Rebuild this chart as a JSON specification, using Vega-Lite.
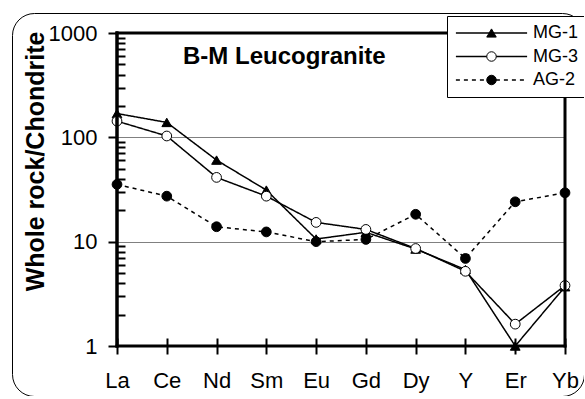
{
  "$schema": "https://vega.github.io/schema/vega-lite/v6.json",
  "width": 572,
  "height": 383,
  "autosize": {"type": "none"},
  "padding": {"left": 12, "top": 13, "right": 0, "bottom": 0},
  "background": "white",
  "config": {
    "font": "Liberation Sans",
    "view": {"stroke": "black", "strokeWidth": 1, "cornerRadius": 22, "fill": "white"}
  },
  "title": {
    "text": "B-M Leucogranite",
    "anchor": "start",
    "frame": "group",
    "orient": "top",
    "offset": 0,
    "dx": 171,
    "dy": 75,
    "fontSize": 24,
    "fontWeight": "bold",
    "baseline": "alphabetic",
    "color": "black"
  },
  "data": {
    "values": [
      {"sample": "MG-1", "element": "La", "value": 169},
      {"sample": "MG-1", "element": "Ce", "value": 139},
      {"sample": "MG-1", "element": "Nd", "value": 60.5},
      {"sample": "MG-1", "element": "Sm", "value": 31.2},
      {"sample": "MG-1", "element": "Eu", "value": 10.6},
      {"sample": "MG-1", "element": "Gd", "value": 12.3},
      {"sample": "MG-1", "element": "Dy", "value": 8.5},
      {"sample": "MG-1", "element": "Y", "value": 5.4},
      {"sample": "MG-1", "element": "Er", "value": 1.0},
      {"sample": "MG-1", "element": "Yb", "value": 3.7},
      {"sample": "MG-3", "element": "La", "value": 143},
      {"sample": "MG-3", "element": "Ce", "value": 103},
      {"sample": "MG-3", "element": "Nd", "value": 41.3},
      {"sample": "MG-3", "element": "Sm", "value": 27.3},
      {"sample": "MG-3", "element": "Eu", "value": 15.3},
      {"sample": "MG-3", "element": "Gd", "value": 13.1},
      {"sample": "MG-3", "element": "Dy", "value": 8.6},
      {"sample": "MG-3", "element": "Y", "value": 5.2},
      {"sample": "MG-3", "element": "Er", "value": 1.62},
      {"sample": "MG-3", "element": "Yb", "value": 3.8},
      {"sample": "AG-2", "element": "La", "value": 35.4},
      {"sample": "AG-2", "element": "Ce", "value": 27.3},
      {"sample": "AG-2", "element": "Nd", "value": 13.9},
      {"sample": "AG-2", "element": "Sm", "value": 12.4},
      {"sample": "AG-2", "element": "Eu", "value": 10.0},
      {"sample": "AG-2", "element": "Gd", "value": 10.5},
      {"sample": "AG-2", "element": "Dy", "value": 18.3},
      {"sample": "AG-2", "element": "Y", "value": 6.9},
      {"sample": "AG-2", "element": "Er", "value": 24.1},
      {"sample": "AG-2", "element": "Yb", "value": 29.4}
    ]
  },
  "resolve": {"axis": {"y": "independent"}},
  "layer": [
    {
      "mark": {"type": "line", "color": "black", "strokeWidth": 1.5},
      "encoding": {
        "x": {
          "field": "element",
          "type": "ordinal",
          "scale": {"type": "point", "domain": ["La", "Ce", "Nd", "Sm", "Eu", "Gd", "Dy", "Y", "Er", "Yb"], "range": [105, 553], "padding": 0},
          "axis": {
            "orient": "bottom",
            "offset": -58,
            "domain": false,
            "grid": false,
            "ticks": true,
            "tickSize": 16,
            "tickWidth": 2,
            "tickColor": "black",
            "labelFontSize": 22,
            "labelPadding": 16,
            "labelAngle": 0,
            "labelColor": "black",
            "title": null
          }
        },
        "y": {
          "field": "value",
          "type": "quantitative",
          "scale": {"type": "log", "domain": [1, 1000], "range": [333, 20], "nice": false},
          "axis": {
            "orient": "left",
            "offset": -105,
            "values": [1, 10, 100, 1000],
            "format": "d",
            "domain": false,
            "grid": true,
            "gridColor": "#808080",
            "gridWidth": 1,
            "ticks": true,
            "tickSize": 9,
            "tickWidth": 2,
            "tickColor": "black",
            "labelFontSize": 22,
            "labelPadding": 11,
            "labelColor": "black",
            "title": "Whole rock/Chondrite",
            "titleFontSize": 25,
            "titleFontWeight": "bold",
            "titleColor": "black",
            "titleAngle": -90,
            "titleX": -74,
            "titleY": 148,
            "titleAlign": "center",
            "titleBaseline": "alphabetic"
          }
        },
        "strokeDash": {
          "field": "sample",
          "type": "nominal",
          "sort": ["MG-1", "MG-3", "AG-2"],
          "scale": {"range": [[1, 0], [1, 0], [4, 4]]},
          "legend": {
            "title": null,
            "orient": "none",
            "legendX": 435,
            "legendY": 3,
            "fillColor": "white",
            "strokeColor": "black",
            "padding": 8,
            "rowPadding": 5.5,
            "labelFontSize": 18,
            "labelColor": "black",
            "symbolType": "M-8.9,0L8.9,0",
            "symbolSize": 64,
            "symbolStrokeColor": "black",
            "symbolStrokeWidth": 1.5,
            "symbolOffset": 27.5,
            "labelOffset": 32.5,
            "zindex": 0
          }
        },
        "order": {"value": null}
      }
    },
    {
      "mark": {"type": "point", "filled": true, "strokeWidth": 1, "size": 95, "opacity": 1},
      "encoding": {
        "x": {"field": "element", "type": "ordinal"},
        "y": {"field": "value", "type": "quantitative", "axis": null},
        "shape": {
          "field": "sample",
          "type": "nominal",
          "scale": {"domain": ["MG-1", "MG-3", "AG-2"], "range": ["triangle-up", "circle", "circle"]},
          "legend": {
            "title": null,
            "orient": "none",
            "legendX": 435,
            "legendY": 3,
            "padding": 8,
            "rowPadding": 5.5,
            "labelFontSize": 18,
            "labelOpacity": 0,
            "symbolSize": 90,
            "symbolStrokeWidth": 1,
            "symbolOffset": 27.5,
            "labelOffset": 32.5,
            "zindex": 1
          }
        },
        "fill": {
          "field": "sample",
          "type": "nominal",
          "scale": {"domain": ["MG-1", "MG-3", "AG-2"], "range": ["black", "white", "black"]},
          "legend": {
            "title": null,
            "orient": "none",
            "legendX": 435,
            "legendY": 3,
            "padding": 8,
            "rowPadding": 5.5,
            "labelFontSize": 18,
            "labelOpacity": 0,
            "symbolSize": 90,
            "symbolStrokeWidth": 1,
            "symbolOffset": 27.5,
            "labelOffset": 32.5,
            "zindex": 1
          }
        },
        "stroke": {
          "field": "sample",
          "type": "nominal",
          "scale": {"domain": ["MG-1", "MG-3", "AG-2"], "range": ["black", "black", "black"]},
          "legend": {
            "title": null,
            "orient": "none",
            "legendX": 435,
            "legendY": 3,
            "padding": 8,
            "rowPadding": 5.5,
            "labelFontSize": 18,
            "labelOpacity": 0,
            "symbolSize": 90,
            "symbolStrokeWidth": 1,
            "symbolOffset": 27.5,
            "labelOffset": 32.5,
            "zindex": 1
          }
        }
      }
    },
    {
      "data": {"values": [{}]},
      "mark": {"type": "rule", "color": "black", "strokeWidth": 3, "strokeCap": "square"},
      "encoding": {
        "y": {"datum": 1000, "type": "quantitative", "axis": null},
        "x": {"datum": "La", "type": "ordinal"},
        "x2": {"datum": "Yb"}
      }
    },
    {
      "data": {"values": [{}]},
      "mark": {"type": "rule", "color": "black", "strokeWidth": 3, "strokeCap": "square"},
      "encoding": {
        "y": {"datum": 1, "type": "quantitative", "axis": null},
        "x": {"datum": "La", "type": "ordinal"},
        "x2": {"datum": "Yb"}
      }
    },
    {
      "data": {"values": [{}]},
      "mark": {"type": "rule", "color": "black", "strokeWidth": 3, "strokeCap": "square"},
      "encoding": {
        "x": {"datum": "La", "type": "ordinal"},
        "y": {"datum": 1, "type": "quantitative", "axis": null},
        "y2": {"datum": 1000}
      }
    },
    {
      "data": {"values": [{}]},
      "mark": {"type": "rule", "color": "black", "strokeWidth": 3, "strokeCap": "square"},
      "encoding": {
        "x": {"datum": "Yb", "type": "ordinal"},
        "y": {"datum": 1, "type": "quantitative", "axis": null},
        "y2": {"datum": 1000}
      }
    },
    {
      "data": {"values": [{}]},
      "mark": {"type": "rule", "color": "black", "strokeWidth": 3, "strokeCap": "square"},
      "encoding": {
        "x": {"datum": "La", "type": "ordinal"},
        "y": {
          "datum": 1,
          "type": "quantitative",
          "axis": {
            "orient": "left",
            "offset": -105,
            "values": [2, 3, 4, 5, 6, 7, 8, 9, 20, 30, 40, 50, 60, 70, 80, 90, 200, 300, 400, 500, 600, 700, 800, 900],
            "domain": false,
            "grid": false,
            "labels": false,
            "ticks": true,
            "tickSize": -8,
            "tickWidth": 2,
            "tickColor": "black",
            "title": null
          }
        },
        "y2": {"datum": 1000}
      }
    }
  ]
}
